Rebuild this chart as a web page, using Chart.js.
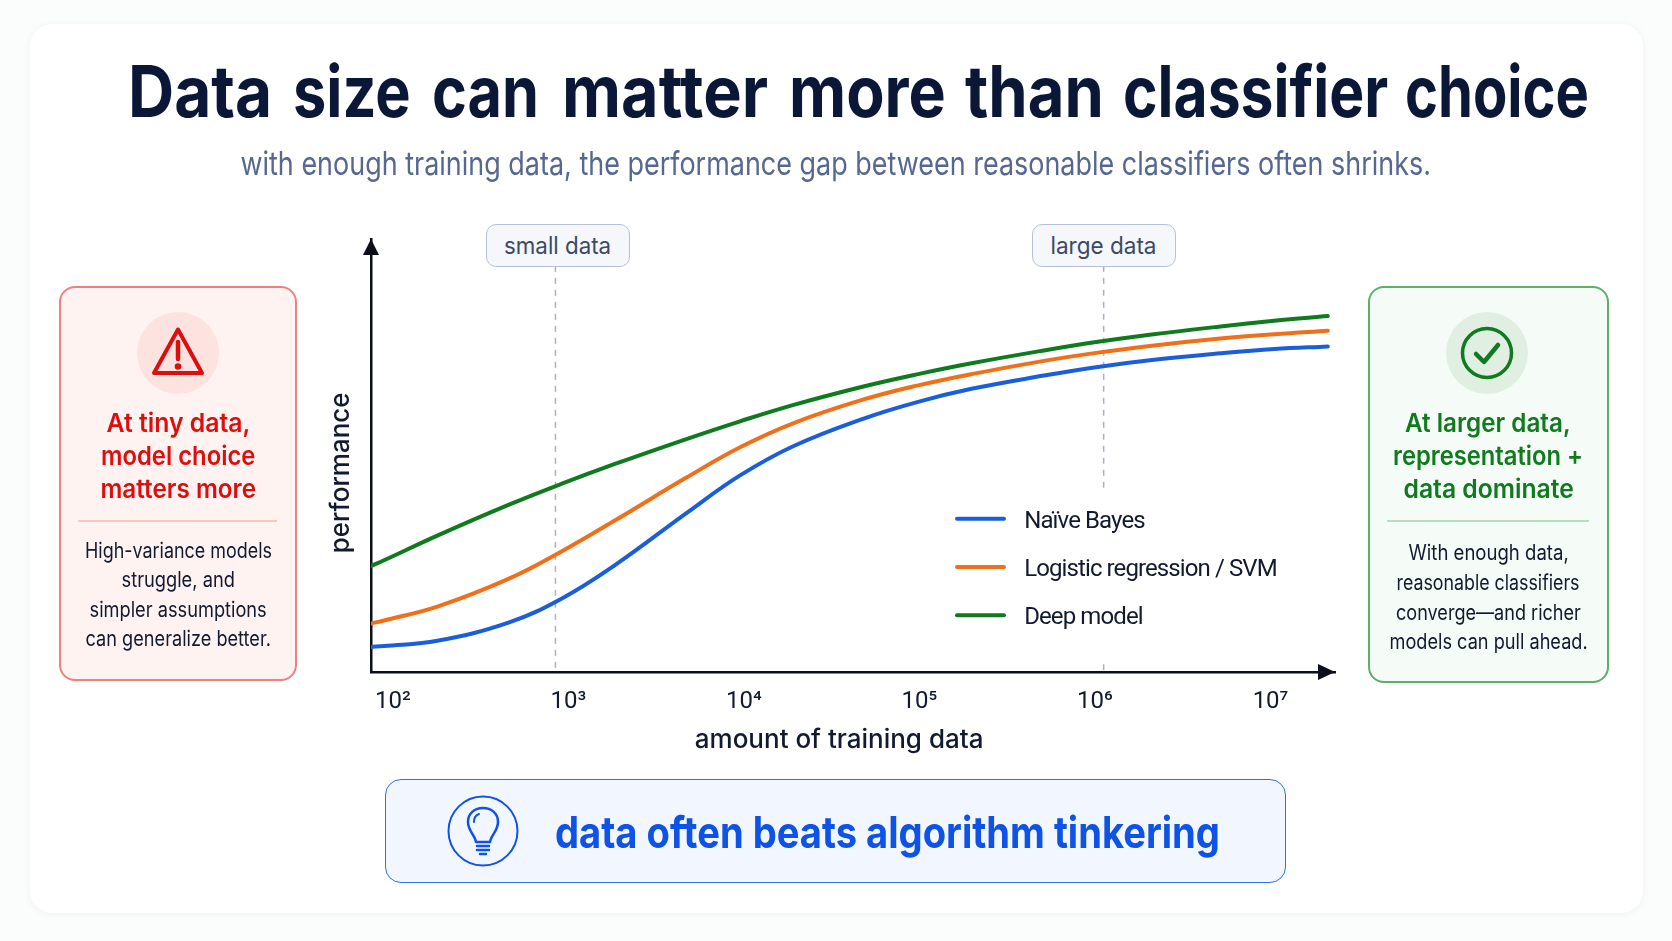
<!DOCTYPE html>
<html lang="en">
<head>
<meta charset="utf-8">
<title>Data size can matter more than classifier choice</title>
<script src="https://cdn.jsdelivr.net/npm/chart.js@4"></script>
<style>
  html, body { margin: 0; padding: 0; width: 1672px; height: 941px; overflow: hidden; background: #fbfcfc; }
  body { position: relative; font-family: Inter, "Noto Sans", sans-serif; color: #111a2e; }
  .abs { position: absolute; }
  #sheet { left: 30px; top: 24px; width: 1613px; height: 889px; background: #fff; border-radius: 22px; box-shadow: 0 1px 8px rgba(30,40,70,.05); }
  canvas#plot { position: absolute; left: 0; top: 0; z-index: 2; }
  .line { position: absolute; white-space: nowrap; transform-origin: center center; line-height: 1; z-index: 3; }
  #headline { position: absolute; left: 0; top: 56px; width: 1672px; height: 71px; font: 700 71px/1 Inter; color: #0b1736; white-space: nowrap; z-index: 3; }
  #headline span { position: absolute; top: 0; transform-origin: left center; }
  .panel { box-sizing: border-box; border-radius: 16px; border: 2px solid; z-index: 1; }
  #warn { left: 59px; top: 286px; width: 238px; height: 395px; background: #fff3f2; border-color: #f08080; }
  #good { left: 1368px; top: 286px; width: 241px; height: 397px; background: #f5fbf6; border-color: #5cb068; }
  .disc { border-radius: 50%; width: 82px; height: 82px; z-index: 2; }
  .rule { height: 1.5px; z-index: 2; }
  .badge { box-sizing: border-box; width: 144px; height: 43px; top: 224px; border-radius: 10px; background: #f5f7fb; border: 1.5px solid #b6c1d4; z-index: 3; }
  #banner { box-sizing: border-box; left: 385px; top: 779px; width: 901px; height: 104px; background: #f2f6fe; border: 1.5px solid #2f6fee; border-radius: 16px; z-index: 1; }
  svg { position: absolute; z-index: 3; overflow: visible; }
</style>
</head>
<body>
<div class="abs" id="sheet"></div>
<div id="headline"></div>

<div class="abs panel" id="warn"></div>
<div class="abs disc" style="left:137px;top:312px;background:#fde3e0"></div>
<svg style="left:150px;top:325px" width="56" height="56" viewBox="0 0 56 56" fill="none" stroke="#dc0f0f" stroke-width="4" stroke-linejoin="round" stroke-linecap="round">
  <path d="M28 4.500 L52 48 H4 Z"/>
  <path d="M28 17 V34" stroke-width="4.500"/>
  <circle cx="28" cy="41.500" r="1.300" fill="#dc0f0f"/>
</svg>
<div class="abs rule" style="left:78px;top:520px;width:199px;background:#f9c6c0"></div>

<div class="abs panel" id="good"></div>
<div class="abs disc" style="left:1446px;top:312px;background:#e1efe3"></div>
<svg style="left:1461px;top:327px" width="52" height="52" viewBox="0 0 52 52" fill="none" stroke="#0f7a1e" stroke-linecap="round" stroke-linejoin="round">
  <circle cx="26" cy="26" r="24.500" stroke-width="3.500"/>
  <path d="M15 27 L23 35 L37 18" stroke-width="4.500"/>
</svg>
<div class="abs rule" style="left:1387px;top:520px;width:202px;background:#b8dfbd"></div>

<div class="abs badge" style="left:486px"></div>
<div class="abs badge" style="left:1032px"></div>

<div class="abs" id="banner"></div>
<svg style="left:447px;top:795px" width="72" height="72" viewBox="0 0 72 72" fill="none" stroke="#0f52e6" stroke-linecap="round" stroke-linejoin="round">
  <circle cx="36" cy="36" r="34.500" stroke-width="2"/>
  <path d="M29 47 C28 40 21 36 21 27 C21 18 28 13 36 13 C44 13 51 18 51 27 C51 36 44 40 43 47 Z" stroke-width="2.500"/>
  <path d="M27 27 C27 23 29 20 32 19" stroke-width="2"/>
  <path d="M30 51 H42 M30 55 H42 M33 59 H39" stroke-width="2.500"/>
</svg>

<canvas id="plot" width="1672" height="941"></canvas>

<script>
// Training-set sizes at which the three learning curves are sampled.
const trainingSizes = [75, 89, 179, 455, 918, 1857, 4700, 9500, 19200, 48600, 98200, 198000, 502000, 1014000, 2050000, 5190000, 10500000, 21200000];

// Performance on a relative 0-100 scale.
const naiveBayes = [5.8, 6.0, 7.2, 11.4, 17.0, 24.8, 36.7, 45.4, 52.2, 58.6, 62.4, 65.4, 68.4, 70.4, 72.0, 73.6, 74.6, 75.2];
const logisticSvm = [11.2, 11.9, 15.1, 21.5, 27.9, 35.1, 44.9, 51.9, 57.5, 63.0, 66.2, 68.8, 71.8, 73.7, 75.3, 77.0, 78.0, 78.8];
const deepModel = [24.5, 25.8, 31.5, 38.6, 43.5, 48.1, 53.8, 57.9, 61.7, 66.0, 68.8, 71.3, 74.2, 76.2, 77.9, 79.8, 81.1, 82.2];

const seriesNames = ['Naïve Bayes', 'Logistic regression / SVM', 'Deep model'];
const seriesColors = ['#1a5fd9', '#f0701a', '#0f7a1e'];

// Decade ticks and the two reference markers on the size axis.
const tickDecades = [100, 1000, 10000, 100000, 1000000, 10000000];
const tickLabels = ['10²', '10³', '10⁴', '10⁵', '10⁶', '10⁷'];
const smallDataSize = 843;
const largeDataSize = 1120000;
const markerTop = 93.8;
const largeMarkerGapFrom = 42.3;
const largeMarkerGapTo = 1.8;

const sizeMin = 75;
const sizeMax = 2.33e7;

const curve = (label, values, color) => ({
  label,
  data: trainingSizes.map((x, i) => ({ x, y: values[i] })),
  borderColor: color,
  backgroundColor: color,
  borderWidth: 4,
  borderCapStyle: 'round',
  pointRadius: 0,
  tension: 0.4,
  order: 1
});

const marker = (points) => ({
  label: '',
  data: points,
  borderColor: '#a9b2c2',
  borderWidth: 1.5,
  borderDash: [6, 6],
  pointRadius: 0,
  spanGaps: false,
  order: 5,
  isMarker: true
});

// Arrowheads at the ends of both axes.
const axisArrows = {
  id: 'axisArrows',
  afterDraw(chart) {
    const { ctx, chartArea: a } = chart;
    ctx.save();
    ctx.fillStyle = '#0b0f1a';
    ctx.beginPath();
    ctx.moveTo(a.left, a.top);
    ctx.lineTo(a.left - 8, a.top + 16);
    ctx.lineTo(a.left + 8, a.top + 16);
    ctx.closePath();
    ctx.moveTo(a.right, a.bottom);
    ctx.lineTo(a.right - 17, a.bottom - 8);
    ctx.lineTo(a.right - 17, a.bottom + 8);
    ctx.closePath();
    ctx.fill();
    ctx.restore();
  }
};

// The legend sits inside the plot, lower right, with tightened text set a little below its swatch.
const placeLegend = {
  id: 'placeLegend',
  afterLayout(chart) {
    const l = chart.legend;
    l.left = 930.7;
    l.top = 482.4;
    l.right = 1320;
    l.bottom = 665;
    if (!l.tightened) {
      const draw = l.draw.bind(l);
      l.draw = () => {
        const ctx = chart.ctx;
        const fillText = ctx.fillText;
        ctx.save();
        ctx.letterSpacing = '-0.9px';
        ctx.fillText = (text, x, y, maxWidth) => fillText.call(ctx, text, x, y + 3, maxWidth);
        draw();
        delete ctx.fillText;
        ctx.restore();
      };
      l.tightened = true;
    }
  }
};

new Chart(document.getElementById('plot'), {
  type: 'line',
  data: {
    datasets: [
      curve(seriesNames[0], naiveBayes, seriesColors[0]),
      curve(seriesNames[1], logisticSvm, seriesColors[1]),
      curve(seriesNames[2], deepModel, seriesColors[2]),
      marker([{ x: smallDataSize, y: markerTop }, { x: smallDataSize, y: 0 }]),
      marker([
        { x: largeDataSize, y: markerTop },
        { x: largeDataSize, y: largeMarkerGapFrom },
        { x: largeDataSize, y: null },
        { x: largeDataSize, y: largeMarkerGapTo },
        { x: largeDataSize, y: 0 }
      ])
    ]
  },
  plugins: [axisArrows, placeLegend],
  options: {
    responsive: false,
    animation: false,
    events: [],
    layout: { padding: { left: 326, right: 337, top: 239, bottom: 185 } },
    plugins: {
      tooltip: { enabled: false },
      title: { display: false },
      legend: {
        display: true,
        position: 'chartArea',
        align: 'start',
        labels: {
          boxWidth: 51,
          boxHeight: 4,
          padding: 24.3,
          useBorderRadius: true,
          borderRadius: 2,
          color: '#111a2e',
          font: { family: 'Roboto', size: 24 },
          generateLabels: (chart) => chart.data.datasets
            .filter((d) => !d.isMarker)
            .map((d) => ({
              text: '\u200a\u200a\u200a\u200a' + d.label,
              fillStyle: d.borderColor,
              strokeStyle: d.borderColor,
              lineWidth: 0,
              borderRadius: 2,
              fontColor: '#111a2e',
              hidden: false
            }))
        }
      }
    },
    scales: {
      x: {
        type: 'logarithmic',
        min: sizeMin,
        max: sizeMax,
        afterBuildTicks: (scale) => { scale.ticks = tickDecades.map((value) => ({ value })); },
        grid: { display: false },
        border: { color: '#0b0f1a', width: 2.5 },
        ticks: {
          autoSkip: false,
          maxRotation: 0,
          padding: 8,
          color: '#111a2e',
          font: { family: 'Roboto', size: 24 },
          callback: (value) => tickLabels[tickDecades.indexOf(value)]
        },
        title: {
          display: true,
          // Trailing no-break spaces move the centred caption left of the axis midpoint.
          text: 'amount of training data\u00a0\u00a0\u00a0\u00a0',
          color: '#111a2e',
          font: { family: 'Inter', size: 26, weight: '500' },
          padding: { top: 8, bottom: 0 }
        },
        afterFit: (scale) => { scale.height = 84; }
      },
      y: {
        min: 0,
        max: 100,
        grid: { display: false },
        border: { color: '#0b0f1a', width: 2.5 },
        ticks: { display: false },
        title: {
          display: true,
          // Same offset trick, pushing the rotated caption below the axis midpoint.
          text: 'performance\u00a0\u00a0\u00a0\u00a0\u00a0',
          color: '#111a2e',
          font: { family: 'Inter', size: 26, weight: '500' },
          padding: 0
        },
        afterFit: (scale) => { scale.width = 45; }
      }
    }
  }
});

// Headline words with their left and right edges, so the word spacing is controlled per word.
const headlineWords = [
  ['Data', 128, 272], ['size', 293, 411], ['can', 432, 539], ['matter', 562, 768],
  ['more', 789, 946], ['than', 965, 1104], ['classifier', 1123, 1388], ['choice', 1405, 1589]
];
const headline = document.getElementById('headline');
headlineWords.forEach(([word, left, right], i) => {
  if (i) headline.appendChild(document.createTextNode(' '));
  const span = document.createElement('span');
  span.textContent = word;
  span.style.left = left + 'px';
  headline.appendChild(span);
  span.style.transform = 'scaleX(' + ((right - left) / span.offsetWidth) + ')';
});

// Page text: [string, centre x, centre y, target width, font css, colour]
const pageText = [
  ['with enough training data, the performance gap between reasonable classifiers often shrinks.', 835.5, 163, 1191, '400 33px Inter', '#56688f'],
  ['small data', 557.5, 245, 107, '400 24px Inter', '#3c4a68'],
  ['large data', 1103.5, 245, 106, '400 24px Inter', '#3c4a68'],
  ['At tiny data,', 178, 422, 144, '600 26px Inter', '#dc0f0f'],
  ['model choice', 178, 455, 154, '600 26px Inter', '#dc0f0f'],
  ['matters more', 178, 488, 156, '600 26px Inter', '#dc0f0f'],
  ['High-variance models', 178, 550, 187, '400 21px Inter', '#111a2e'],
  ['struggle, and', 178, 579, 113, '400 21px Inter', '#111a2e'],
  ['simpler assumptions', 178, 609, 177, '400 21px Inter', '#111a2e'],
  ['can generalize better.', 178, 638, 185, '400 21px Inter', '#111a2e'],
  ['At larger data,', 1488, 422, 166, '600 26px Inter', '#0f7a1e'],
  ['representation +', 1488, 455, 190, '600 26px Inter', '#0f7a1e'],
  ['data dominate', 1488, 488, 170, '600 26px Inter', '#0f7a1e'],
  ['With enough data,', 1488, 552, 160, '400 21px Inter', '#111a2e'],
  ['reasonable classifiers', 1488, 582, 183, '400 21px Inter', '#111a2e'],
  ['converge—and richer', 1488, 612, 185, '400 21px Inter', '#111a2e'],
  ['models can pull ahead.', 1488, 641, 198, '400 21px Inter', '#111a2e'],
  ['data often beats algorithm tinkering', 887, 832, 665, '700 44px Inter', '#0f52e6']
];

for (const [text, cx, cy, width, font, color] of pageText) {
  const el = document.createElement('div');
  el.className = 'line';
  el.textContent = text;
  el.style.font = font;
  el.style.color = color;
  document.body.appendChild(el);
  const w = el.offsetWidth, h = el.offsetHeight;
  el.style.left = (cx - w / 2) + 'px';
  el.style.top = (cy - h / 2) + 'px';
  el.style.transform = 'scaleX(' + (width / w) + ')';
}
</script>
</body>
</html>
